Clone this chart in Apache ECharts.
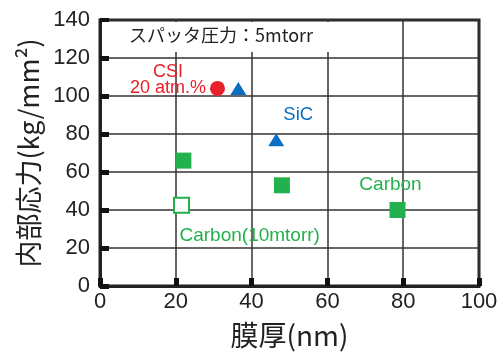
<!DOCTYPE html>
<html><head><meta charset="utf-8">
<script src="https://cdn.jsdelivr.net/npm/echarts@6/dist/echarts.min.js"></script>
<style>html,body{margin:0;padding:0;background:#fff}#c{width:501px;height:353px}</style>
</head><body><div id="c"></div>
<script>
var xTicks = [0, 20, 40, 60, 80, 100];
var yTicks = [0, 20, 40, 60, 80, 100, 120, 140];
var csiX = [31], csiY = [104];
var sicX = [36.5, 46.5], sicY = [104, 77];
var carbonX = [22, 48, 78.5], carbonY = [66, 53, 40];
var carbon10X = [21.5], carbon10Y = [42.5];
var titleText = 'スパッタ圧力：5mtorr';
var xName = '膜厚(nm)';
var yName = '内部応力(kg/mm²)';

function pairs(xs, ys) { return xs.map(function (x, i) { return [x, ys[i]]; }); }
var FONT = '"Liberation Sans","Noto Sans CJK JP",sans-serif';
var JP = '"Noto Sans CJK JP","Liberation Sans",sans-serif';
var RED = '#e8202a', BLUE = '#0a6fc2', GREEN = '#22b14c';

var sicData = pairs(sicX, sicY);
sicData[1] = { value: sicData[1], label: { show: true, position: 'top', offset: [22, -4], formatter: 'SiC', color: BLUE, fontSize: 18.5 } };
var carbonData = pairs(carbonX, carbonY);
carbonData[2] = { value: carbonData[2], label: { show: true, position: 'top', offset: [-7, -3], formatter: 'Carbon', color: GREEN, fontSize: 19 } };

var chart = echarts.init(document.getElementById('c'));
chart.setOption({
  animation: false,
  textStyle: { fontFamily: FONT },
  grid: { left: 100, right: 22, top: 20, bottom: 67, containLabel: false, outerBoundsMode: 'none', show: true, borderColor: '#222', borderWidth: 3 },
  xAxis: {
    type: 'value', min: xTicks[0], max: xTicks[xTicks.length - 1], interval: 20,
    name: xName, nameLocation: 'middle', nameGap: 35,
    nameTextStyle: { fontSize: 28, color: '#222', fontFamily: JP },
    axisLine: { lineStyle: { color: '#222', width: 3 } },
    axisTick: { show: true, inside: true, length: 8, lineStyle: { color: '#111', width: 5 } },
    axisLabel: { fontSize: 22, color: '#222', margin: 5 },
    splitLine: { show: true, lineStyle: { color: '#333', width: 1.5 } }
  },
  yAxis: {
    type: 'value', min: yTicks[0], max: yTicks[yTicks.length - 1], interval: 20,
    name: yName, nameLocation: 'middle', nameGap: 57, nameRotate: 90,
    nameTextStyle: { fontSize: 27, color: '#222', fontFamily: JP },
    axisLine: { lineStyle: { color: '#222', width: 3 } },
    axisTick: { show: true, inside: true, length: 9, lineStyle: { color: '#111', width: 5 } },
    axisLabel: { fontSize: 22, color: '#222', margin: 10 },
    splitLine: { show: true, lineStyle: { color: '#333', width: 1.5 } }
  },
  graphic: [
    { type: 'rect', left: 102, top: 22, z: 5, shape: { width: 258, height: 30 }, style: { fill: '#fff' } },
    { type: 'text', left: 129, top: 26, z: 6, style: { text: titleText, fontSize: 18, fill: '#222', fontFamily: JP } }
  ],
  series: [
    {
      type: 'scatter', data: pairs(csiX, csiY), symbol: 'circle', symbolSize: 15, z: 10,
      itemStyle: { color: RED, opacity: 1 },
      label: { show: true, position: 'left', distance: 6, offset: [-36, -8], formatter: 'CSI\n20 atm.%', align: 'center', color: RED, fontSize: 18, lineHeight: 16 }
    },
    {
      type: 'scatter', data: sicData, symbol: 'triangle', symbolSize: [16, 13], z: 10,
      itemStyle: { color: BLUE, opacity: 1 }
    },
    {
      type: 'scatter', data: carbonData, symbol: 'rect', symbolSize: 16, z: 10,
      itemStyle: { color: GREEN, opacity: 1 }
    },
    {
      type: 'scatter', data: pairs(carbon10X, carbon10Y), symbol: 'rect', symbolSize: 15, z: 10,
      itemStyle: { color: '#fff', borderColor: GREEN, borderWidth: 2, opacity: 1 },
      label: { show: true, position: 'bottom', distance: 13, align: 'left', offset: [-2, 0], formatter: 'Carbon(10mtorr)', color: GREEN, fontSize: 19 }
    }
  ]
});
</script></body></html>
